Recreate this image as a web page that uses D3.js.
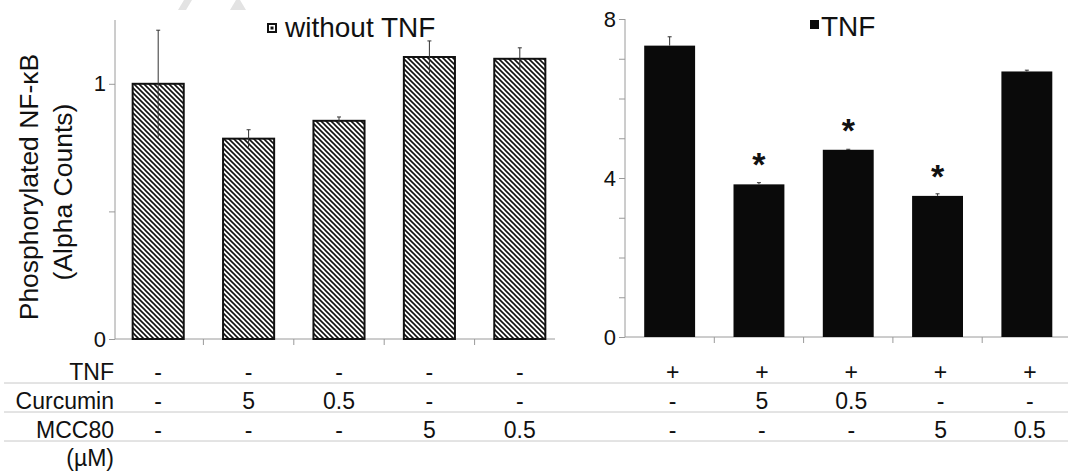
<!DOCTYPE html>
<html><head><meta charset="utf-8">
<script src="https://cdn.jsdelivr.net/npm/d3@7"></script>
<style>body{margin:0;background:#fff}svg{display:block;font-family:"Liberation Sans",Arial,sans-serif}</style>
</head><body>
<svg id="c" width="1068" height="471"></svg>
<script>
const groups = ["g1","g2","g3","g4","g5"];
const withoutTNF = [1.0, 0.785, 0.855, 1.105, 1.098];
const withoutTNFErr = [0.21, 0.035, 0.015, 0.063, 0.043];
const withTNF = [7.33, 3.84, 4.71, 3.55, 6.68];
const withTNFErr = [0.21, 0.03, 0.0, 0.04, 0.02];
const significant = [false, true, true, true, false];
const leftTicks = [0, 0.5, 1];
const leftTickLabels = ["0", "", "1"];
const rightTicks = [0,1,2,3,4,5,6,7,8];
const rightTickLabels = {0:"0",4:"4",8:"8"};
const rowLabels = ["TNF", "Curcumin", "MCC80", "(µM)"];
const leftRows = [["-","-","-","-","-"],["-","5","0.5","-","-"],["-","-","-","5","0.5"]];
const rightRows = [["+","+","+","+","+"],["-","5","0.5","-","-"],["-","-","-","5","0.5"]];

const FONT = "Liberation Sans, Arial, sans-serif";
const svg = d3.select("#c");
const defs = svg.append("defs");
const pat = defs.append("pattern").attr("id","hatch").attr("patternUnits","userSpaceOnUse")
  .attr("width",5).attr("height",5);
pat.append("rect").attr("width",5).attr("height",5).attr("fill","#fff");
pat.append("path").attr("d","M0,0L5,5M-1,4L1,6M4,-1L6,1").attr("stroke","#111").attr("stroke-width",1.6);

// faint watermark shapes
svg.append("polygon").attr("points","178,10 186,10 192,0 184,0").attr("fill","#e3e3e3");
svg.append("polygon").attr("points","230,10 246,10 240,0 236,0").attr("fill","#e3e3e3");

const axisColor = "#9a9a9a";
// LEFT PANEL
const yL = d3.scaleLinear().domain([0,1.25]).range([339,20]);
const xL = d3.scaleBand().domain(groups).range([113,565]).paddingInner(0.435).paddingOuter(0.2175);
const gL = svg.append("g");
const axL = gL.append("g").attr("transform","translate(115,0)")
  .call(d3.axisLeft(yL).tickValues(leftTicks).tickSize(6).tickFormat((d,i)=>leftTickLabels[i]));
axL.select(".domain").attr("stroke",axisColor).attr("d","M-0,339V20");
axL.selectAll(".tick line").attr("stroke",axisColor);
axL.selectAll(".tick text").attr("font-size",22).attr("fill","#111").attr("x",-9).attr("font-family",FONT);
const xAxL = gL.append("g").attr("transform","translate(0,339)")
  .call(d3.axisBottom(xL).tickSize(0).tickFormat(""));
xAxL.select(".domain").attr("stroke",axisColor).attr("d","M115,0H555");
gL.selectAll("line.sep").data(groups.slice(1)).enter().append("line")
  .attr("x1",d=>xL(d)-xL.step()*xL.paddingInner()/2).attr("x2",d=>xL(d)-xL.step()*xL.paddingInner()/2)
  .attr("y1",339).attr("y2",345).attr("stroke",axisColor);
gL.selectAll("rect.bar").data(withoutTNF).enter().append("rect")
  .attr("x",(d,i)=>xL(groups[i])).attr("width",xL.bandwidth())
  .attr("y",d=>yL(d)).attr("height",d=>339-yL(d))
  .attr("fill","url(#hatch)").attr("stroke","#111").attr("stroke-width",2);
gL.selectAll("line.err").data(withoutTNF).enter().append("line")
  .attr("x1",(d,i)=>xL(groups[i])+xL.bandwidth()/2).attr("x2",(d,i)=>xL(groups[i])+xL.bandwidth()/2)
  .attr("y1",(d,i)=>yL(d-withoutTNFErr[i])).attr("y2",(d,i)=>yL(d+withoutTNFErr[i]))
  .attr("stroke","#333").attr("stroke-width",1);
gL.selectAll("line.cap").data(withoutTNF).enter().append("line")
  .attr("x1",(d,i)=>xL(groups[i])+xL.bandwidth()/2-2).attr("x2",(d,i)=>xL(groups[i])+xL.bandwidth()/2+2)
  .attr("y1",(d,i)=>yL(d+withoutTNFErr[i])).attr("y2",(d,i)=>yL(d+withoutTNFErr[i]))
  .attr("stroke","#333").attr("stroke-width",1);
// legend left
gL.append("rect").attr("x",268).attr("y",24).attr("width",8).attr("height",8).attr("fill","#fff").attr("stroke","#111").attr("stroke-width",2);
gL.append("rect").attr("x",270.5).attr("y",26.5).attr("width",3).attr("height",3).attr("fill","#111");
gL.append("text").attr("x",285).attr("y",37).attr("font-size",28).attr("fill","#111").text("without TNF");
// y label
gL.append("text").attr("transform","translate(38,187) rotate(-90)").attr("text-anchor","middle").attr("font-size",26.5).attr("fill","#111").text("Phosphorylated NF-κB");
gL.append("text").attr("transform","translate(72,192) rotate(-90)").attr("text-anchor","middle").attr("font-size",26.5).attr("fill","#111").text("(Alpha Counts)");

// RIGHT PANEL
const yR = d3.scaleLinear().domain([0,8]).range([337,19]);
const xR = d3.scaleBand().domain(groups).range([625,1071.5]).paddingInner(0.43).paddingOuter(0.215);
const gR = svg.append("g");
const axR = gR.append("g").attr("transform","translate(625,0)")
  .call(d3.axisLeft(yR).tickValues(rightTicks).tickSize(6).tickFormat(d=>rightTickLabels[d]||""));
axR.select(".domain").attr("stroke",axisColor).attr("d","M0,337V19");
axR.selectAll(".tick line").attr("stroke",axisColor);
axR.selectAll(".tick text").attr("font-size",22).attr("fill","#111").attr("x",-9).attr("font-family",FONT);
const xAxR = gR.append("g").attr("transform","translate(0,337)")
  .call(d3.axisBottom(xR).tickSize(0).tickFormat(""));
xAxR.select(".domain").attr("stroke",axisColor).attr("d","M625,0H1068");
gR.selectAll("line.sep").data(groups.slice(1)).enter().append("line")
  .attr("x1",d=>xR(d)-xR.step()*xR.paddingInner()/2).attr("x2",d=>xR(d)-xR.step()*xR.paddingInner()/2)
  .attr("y1",337).attr("y2",343).attr("stroke",axisColor);
gR.selectAll("rect.bar").data(withTNF).enter().append("rect")
  .attr("x",(d,i)=>xR(groups[i])).attr("width",xR.bandwidth())
  .attr("y",d=>yR(d)).attr("height",d=>337-yR(d))
  .attr("fill","#0a0a0a");
gR.selectAll("line.err").data(withTNF).enter().append("line")
  .attr("x1",(d,i)=>xR(groups[i])+xR.bandwidth()/2).attr("x2",(d,i)=>xR(groups[i])+xR.bandwidth()/2)
  .attr("y1",(d,i)=>yR(d)).attr("y2",(d,i)=>yR(d+withTNFErr[i])-0.5)
  .attr("stroke","#333").attr("stroke-width",1);
gR.selectAll("line.cap").data(withTNF).enter().append("line")
  .attr("x1",(d,i)=>xR(groups[i])+xR.bandwidth()/2-2).attr("x2",(d,i)=>xR(groups[i])+xR.bandwidth()/2+2)
  .attr("y1",(d,i)=>yR(d+withTNFErr[i])-0.5).attr("y2",(d,i)=>yR(d+withTNFErr[i])-0.5)
  .attr("stroke","#333").attr("stroke-width",1);
gR.selectAll("text.star").data(withTNF.map((v,i)=>({v,i}))).enter().filter(d=>significant[d.i]).append("text")
  .attr("x",d=>xR(groups[d.i])+xR.bandwidth()/2)
  .attr("y",d=>yR(d.v)-8).attr("text-anchor","middle").attr("font-size",34).attr("font-weight","bold").attr("fill","#111").text("*");
// legend right
gR.append("rect").attr("x",810).attr("y",20).attr("width",9).attr("height",9).attr("fill","#0a0a0a");
gR.append("text").attr("x",821).attr("y",36).attr("font-size",28).attr("fill","#111").text("TNF");

// TABLE
const rowY = [372, 401, 430, 458];
const lineY = [383, 412, 441];
svg.selectAll("line.row").data(lineY).enter().append("line")
  .attr("x1",4).attr("x2",1068).attr("y1",d=>d).attr("y2",d=>d).attr("stroke","#c8c8c8").attr("stroke-width",1);
svg.selectAll("text.rl").data(rowLabels).enter().append("text")
  .attr("x",114).attr("y",(d,i)=>rowY[i]).attr("dy","0.35em").attr("text-anchor","end")
  .attr("font-size",23).attr("fill","#111").text(d=>d);
leftRows.forEach((row,r)=>{
  svg.selectAll(null).data(row).enter().append("text")
    .attr("x",(d,i)=>xL(groups[i])+xL.bandwidth()/2).attr("y",rowY[r]).attr("dy","0.35em")
    .attr("text-anchor","middle").attr("font-size",23).attr("fill","#111").text(d=>d);
});
rightRows.forEach((row,r)=>{
  svg.selectAll(null).data(row).enter().append("text")
    .attr("x",(d,i)=>xR(groups[i])+xR.bandwidth()/2+3).attr("y",rowY[r]).attr("dy","0.35em")
    .attr("text-anchor","middle").attr("font-size",23).attr("fill","#111").text(d=>d);
});
</script>
</body></html>
